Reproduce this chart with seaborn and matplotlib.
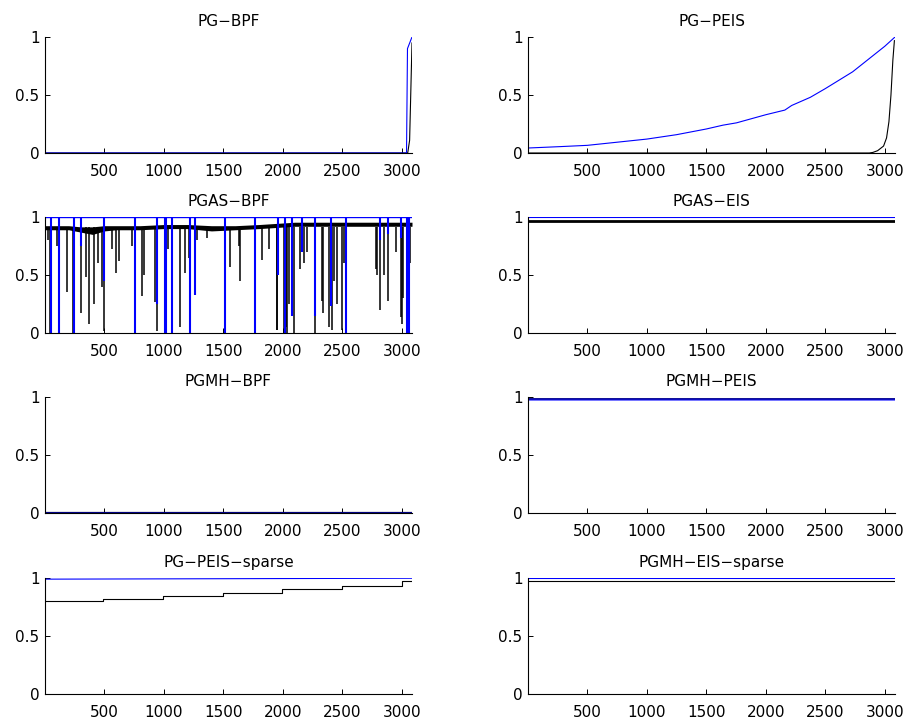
"""
Acceptance-rate style traces, 4x2 grid of samplers
"""
import numpy as np
import matplotlib
matplotlib.use("Agg")
import matplotlib.pyplot as plt
import seaborn as sns

T_END = 3086
X_TICKS = [500, 1000, 1500, 2000, 2500, 3000]
Y_TICKS = [0, 0.5, 1]

# PG-BPF
pg_bpf_black_x = [1, 3050, 3066, 3086]
pg_bpf_black_y = [0, 0, 0.11, 0.95]
pg_bpf_blue_x = [1, 3040, 3048, 3086]
pg_bpf_blue_y = [0, 0, 0.90, 1.0]

# PG-PEIS
pg_peis_blue_x = [1, 271, 500, 1000, 1250, 1500, 1640, 1754, 2000, 2160, 2218, 2374, 2500, 2730, 3000, 3086]
pg_peis_blue_y = [0.043, 0.055, 0.066, 0.12, 0.158, 0.207, 0.24, 0.26, 0.33, 0.37, 0.41, 0.48, 0.555, 0.70, 0.92, 1.0]
pg_peis_black_x = [1, 2870, 2900, 2940, 2990, 3015, 3035, 3052, 3068, 3081]
pg_peis_black_y = [0, 0, 0.005, 0.02, 0.06, 0.13, 0.27, 0.5, 0.8, 0.97]

# PGAS-BPF: black band (top / bottom) plus the downward dips of both traces
pgas_band_x = [1, 200, 300, 400, 500, 600, 800, 1000, 1200, 1400, 1600, 1800, 1950, 2100, 2400, 2700, 3000, 3086]
pgas_band_top = [0.925, 0.925, 0.915, 0.915, 0.925, 0.925, 0.925, 0.935, 0.935, 0.925, 0.925, 0.935, 0.945, 0.955, 0.955, 0.955, 0.955, 0.955]
pgas_band_bot = [0.89, 0.89, 0.87, 0.85, 0.88, 0.89, 0.89, 0.90, 0.90, 0.88, 0.89, 0.90, 0.91, 0.92, 0.92, 0.92, 0.92, 0.92]
pgas_black_dip_x = [28, 42, 98, 183, 239, 303, 345, 374, 413, 449, 478, 497, 562, 598, 626, 730,
                    815, 834, 927, 941, 1039, 1067, 1138, 1180, 1208, 1278, 1362, 1559, 1629, 1643,
                    1826, 1882, 1947, 1952, 2008, 2031, 2037, 2051, 2093, 2143, 2177, 2205, 2270,
                    2331, 2337, 2388, 2410, 2430, 2458, 2500, 2514, 2787, 2795, 2815, 2851, 2885,
                    2949, 2992, 3000, 3014, 3048, 3070]
pgas_black_dip_y = [0.80, 0.0, 0.75, 0.35, 0.0, 0.17, 0.48, 0.08, 0.25, 0.60, 0.40, 0.02, 0.72, 0.52, 0.62, 0.75,
                    0.32, 0.50, 0.27, 0.02, 0.72, 0.20, 0.05, 0.52, 0.65, 0.80, 0.82, 0.57, 0.75, 0.45,
                    0.63, 0.72, 0.03, 0.03, 0.03, 0.05, 0.0, 0.25, 0.0, 0.55, 0.60, 0.70, 0.0,
                    0.28, 0.17, 0.05, 0.03, 0.45, 0.25, 0.03, 0.60, 0.55, 0.50, 0.20, 0.50, 0.28,
                    0.70, 0.14, 0.08, 0.30, 0.0, 0.60]
pgas_blue_dip_x = [48, 118, 242, 300, 497, 758, 941, 1008, 1020, 1070, 1216, 1258, 1517, 1770,
                   1958, 2022, 2079, 2160, 2270, 2408, 2534, 2815, 2885, 2992, 3045, 3062]
pgas_blue_dip_y = [0.0, 0.0, 0.0, 0.75, 0.45, 0.0, 0.25, 0.0, 0.0, 0.0, 0.0, 0.33, 0.0, 0.0,
                   0.5, 0.0, 0.15, 0.7, 0.15, 0.23, 0.0, 0.8, 0.85, 0.82, 0.0, 0.0]

# flat traces: (blue level, black level)
pgas_eis_levels = (1.0, 0.968)
pgmh_bpf_levels = (0.0, 0.0)
pgmh_peis_levels = (0.986, 0.982)
pgmh_eis_sparse_levels = (0.997, 0.974)

# PG-PEIS-sparse: black staircase, blue almost flat
sparse_step_x = [1, 492, 997, 1497, 1994, 2500, 3000, 3086]
sparse_step_y = [0.80, 0.82, 0.845, 0.875, 0.905, 0.935, 0.975, 0.975]
sparse_blue_x = [1, 3086]
sparse_blue_y = [0.99, 0.998]

sns.set_theme(style="ticks")
plt.rcParams['font.family'] = ['DejaVu Sans']
plt.rcParams['text.color'] = 'black'
plt.rcParams['axes.titlecolor'] = 'black'

BLUE = (0, 0, 1)
BLACK = (0, 0, 0)

fig = plt.figure(figsize=(9.11, 7.25), dpi=100)
W, H = 911, 725
col_left = [45, 528]
row_top = [37, 217, 397, 578]
ax_w, ax_h = 367, 116

titles = [["PG\u2212BPF", "PG\u2212PEIS"],
          ["PGAS\u2212BPF", "PGAS\u2212EIS"],
          ["PGMH\u2212BPF", "PGMH\u2212PEIS"],
          ["PG\u2212PEIS\u2212sparse", "PGMH\u2212EIS\u2212sparse"]]

axes = {}
for r in range(4):
    for c in range(2):
        rect = [col_left[c] / W, 1 - (row_top[r] + ax_h) / H, ax_w / W, ax_h / H]
        axes[(r, c)] = fig.add_axes(rect)


def line(ax, x, y, color, lw=0.8, **kw):
    sns.lineplot(x=np.asarray(x, dtype=float), y=np.asarray(y, dtype=float), ax=ax,
                 color=color, linewidth=lw, estimator=None, sort=False, **kw)


def flat(ax, level, color, lw=0.8, **kw):
    line(ax, [1, T_END], [level, level], color, lw, **kw)


# row 1
line(axes[(0, 0)], pg_bpf_black_x, pg_bpf_black_y, BLACK)
line(axes[(0, 0)], pg_bpf_blue_x, pg_bpf_blue_y, BLUE)
line(axes[(0, 1)], pg_peis_blue_x, pg_peis_blue_y, BLUE)
line(axes[(0, 1)], pg_peis_black_x, pg_peis_black_y, BLACK)

# row 2
ax = axes[(1, 0)]
ax.fill_between(pgas_band_x, pgas_band_bot, pgas_band_top, color=BLACK, linewidth=0)
ax.vlines(pgas_black_dip_x, pgas_black_dip_y, 0.91, color=BLACK, linewidth=1.1)
flat(ax, 1.0, BLUE, lw=1.0)
ax.vlines(pgas_blue_dip_x, pgas_blue_dip_y, 1.0, color=BLUE, linewidth=1.5)

ax = axes[(1, 1)]
flat(ax, pgas_eis_levels[1], BLACK, lw=2.0)
flat(ax, pgas_eis_levels[0], BLUE, lw=0.8)

# row 3
flat(axes[(2, 0)], pgmh_bpf_levels[1], BLACK, lw=1.6)
flat(axes[(2, 0)], pgmh_bpf_levels[0], BLUE, lw=1.4, alpha=0.55)
flat(axes[(2, 1)], pgmh_peis_levels[1], BLACK, lw=1.2)
flat(axes[(2, 1)], pgmh_peis_levels[0], BLUE, lw=1.8, alpha=0.7)

# row 4
line(axes[(3, 0)], sparse_step_x, sparse_step_y, BLACK, drawstyle='steps-post')
line(axes[(3, 0)], sparse_blue_x, sparse_blue_y, BLUE)
flat(axes[(3, 1)], pgmh_eis_sparse_levels[1], BLACK)
flat(axes[(3, 1)], pgmh_eis_sparse_levels[0], BLUE)

for (r, c), ax in axes.items():
    ax.set_xlim(1, T_END)
    ax.set_ylim(0, 1)
    ax.set_xticks(X_TICKS)
    ax.set_xticklabels([str(t) for t in X_TICKS])
    ax.set_yticks(Y_TICKS)
    ax.set_yticklabels(["0", "0.5", "1"])
    ax.set_xlabel("")
    ax.set_ylabel("")
    ax.tick_params(axis='both', direction='in', length=3.5, width=0.7,
                   colors='black', labelsize=11)
    ax.tick_params(axis='x', pad=8)
    ax.tick_params(axis='y', pad=4)
    sns.despine(ax=ax)
    for s in ['left', 'bottom']:
        ax.spines[s].set_linewidth(0.8)
        ax.spines[s].set_color('black')
    ax.set_title(titles[r][c], fontsize=11, pad=8, color='black')

fig.savefig("out.png", dpi=100)
